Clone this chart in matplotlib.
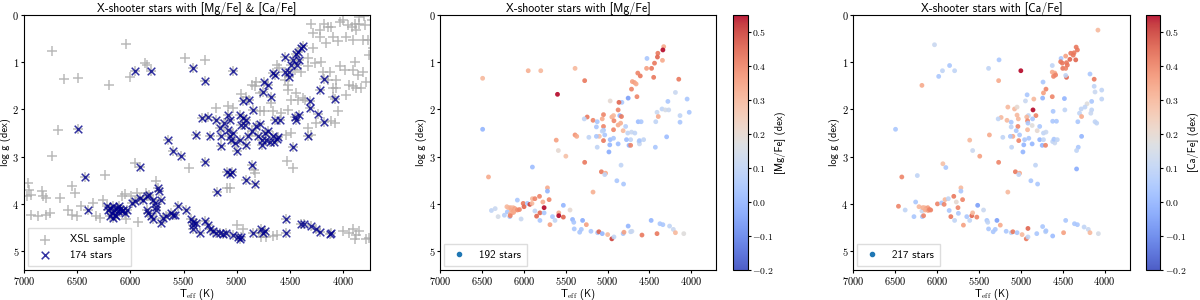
import numpy as np
import matplotlib
matplotlib.use("Agg")
import matplotlib.pyplot as plt
from matplotlib.lines import Line2D

plt.rcParams['font.family'] = 'cmss10'
plt.rcParams['mathtext.fontset'] = 'cm'
plt.rcParams['axes.formatter.use_mathtext'] = True
plt.rcParams['axes.unicode_minus'] = True

# ---------------- panel 1 : stars with both [Mg/Fe] and [Ca/Fe] ----------------
both_teff = [6495, 6430, 6395, 5955, 5810, 5910, 5410, 5295, 5035, 5380, 5520, 5600, 5645,
             5295, 5185, 5095, 5065, 5045, 4910, 4860, 4830, 4470, 4330, 4315, 4220, 4175,
             4080, 4175, 4235, 4315, 4410, 4440, 4455, 4635, 4650, 4625, 4785, 4845, 4940,
             4880, 4755, 4740, 4705, 4675, 4660, 4640, 4550, 4510, 4485, 4550, 4470, 4445,
             4425, 4410, 4395, 4380, 4435, 4505,
             5330, 5270, 5255, 5190, 5160, 5145, 5145, 5115, 5080, 5065, 5080, 5065, 5035,
             5050, 5000, 5015, 4970, 4940, 4955, 4920, 4910, 4895, 4910, 4970, 4860, 4815,
             4800, 4765, 4765, 4735, 4720, 4705, 4690, 4660, 4610, 4595,
             6223, 6208, 6192, 6176, 6161, 6155, 6145, 6130, 6114, 6098, 6192, 6167, 6136,
             6111, 6083, 6067, 6051, 6036, 5989, 5957, 5910, 5879, 5848, 5829, 5791, 5769,
             5760, 5754, 5848, 5832, 5810, 5791, 5738, 5729, 5707, 5707, 5691, 5660, 5613,
             5597, 5581, 5550, 5472, 5425, 5415, 5409, 5409, 5378, 5347, 5300, 5268, 5253,
             5221, 5190, 5159, 5127, 5096, 5033, 4987, 4971, 4955, 4846, 4767, 4752, 4736,
             4532, 4532, 4392, 4370, 4298, 4251, 4219, 4125, 4110]
both_logg = [2.42, 3.42, 4.13, 1.18, 1.18, 3.22, 1.13, 1.39, 1.18, 2.54, 2.99, 2.87, 2.65,
             3.11, 3.75, 3.33, 3.36, 3.33, 3.50, 3.17, 3.58, 2.80, 2.57, 1.83, 1.58, 1.35,
             1.77, 2.27, 2.09, 1.97, 2.11, 2.22, 2.15, 2.23, 2.68, 2.63, 2.31, 2.01, 1.83,
             1.80, 1.62, 1.41, 1.48, 1.73, 1.23, 1.27, 1.20, 1.32, 1.06, 0.89, 0.95, 0.82,
             0.79, 0.95, 0.70, 0.65, 1.06, 1.20,
             2.18, 2.15, 2.57, 2.22, 2.39, 2.57, 2.78, 2.29, 2.11, 2.22, 2.43, 2.57, 2.50,
             2.64, 2.89, 2.71, 2.11, 2.18, 2.32, 2.32, 2.22, 2.57, 2.75, 2.64, 2.46, 2.36,
             2.57, 2.64, 2.75, 2.50, 2.64, 2.46, 2.68, 2.57, 2.59, 2.23,
             4.05, 4.12, 4.08, 4.19, 4.05, 4.12, 4.23, 4.08, 4.15, 4.11, 4.25, 4.30, 4.26,
             4.05, 4.15, 4.12, 4.19, 4.12, 3.99, 3.93, 3.87, 3.91, 3.84, 3.82, 3.92, 3.99,
             4.06, 4.12, 4.12, 4.19, 4.26, 4.33, 3.66, 3.73, 3.91, 4.40, 4.30, 4.26, 4.19,
             4.23, 4.23, 4.05, 4.12, 4.33, 4.39, 4.44, 4.54, 4.40, 4.61, 4.37, 4.44, 4.54,
             4.58, 4.61, 4.61, 4.63, 4.61, 4.65, 4.70, 4.74, 4.70, 4.61, 4.54, 4.61, 4.58,
             4.33, 4.61, 4.42, 4.42, 4.47, 4.54, 4.60, 4.63, 4.61]

# rest of the XSL sample (only the grey crosses that are not under a blue one)
xsl_teff = [6740, 6625, 6490, 6200, 6040, 6000, 5865, 5840, 5490, 5295, 6680, 6740, 6240,
            5955, 5445, 5095, 4530, 4470, 5035, 5190, 5080,
            6960, 6950, 6930, 6975, 6835, 6820, 6790, 6660, 6930, 6865, 6790, 6760, 6550,
            6520, 6585, 6550, 6505, 6460, 6350, 6320, 6285, 6255, 6080, 6050, 6040, 5990,
            5935, 5925, 5850, 5755,
            4300, 4280, 4220, 4175, 4145, 4110, 4030, 4000, 3955, 3920, 3890, 3875, 3845,
            3795, 3765, 3810, 3905, 3970, 4050, 4095, 4160, 4220, 4280, 4330, 4330, 4265,
            4205, 4190, 4125, 4140, 4065, 4030, 3985, 3905, 3890, 3860, 3810, 3780, 3760,
            3940, 3905, 3875, 3830, 3970, 4065, 4095, 4095, 4050, 4110, 4080, 4250, 4330,
            4300, 4375, 4360, 4425, 4440, 4520, 4550, 4455, 4395, 4515, 4490, 4515, 4490,
            4540, 4580, 4660, 4675, 4740, 4785, 4785, 4830, 4860, 4910, 4955, 4815, 4625,
            4600, 3730, 3720, 3800, 3850,
            4940, 5000, 4790, 4770, 4720, 4660, 4625, 4000, 3940, 3905, 3875, 3845, 3890,
            3780, 3760, 4830, 4840, 5060]
xsl_logg = [0.77, 1.36, 1.34, 1.48, 0.61, 1.32, 1.02, 1.06, 0.92, 0.95, 2.43, 2.98, 3.39,
            3.13, 3.24, 3.66, 3.10, 3.24, 1.97, 1.97, 1.93,
            3.56, 3.70, 3.82, 3.84, 3.73, 3.84, 3.87, 3.87, 4.23, 4.26, 4.23, 4.20, 3.63,
            3.77, 4.12, 4.23, 4.26, 4.05, 3.98, 4.26, 4.30, 3.91, 3.84, 3.80, 4.33, 3.84,
            3.77, 4.39, 3.77, 3.52,
            0.18, 0.39, 0.32, 0.18, 0.25, 0.25, 0.14, 0.11, 0.21, 0.25, 0.18, 0.32, 0.18,
            0.21, 0.53, 0.53, 0.53, 0.46, 0.56, 0.46, 0.60, 0.46, 0.70, 0.92, 1.09, 1.02,
            0.99, 1.20, 1.20, 1.37, 1.37, 1.09, 1.16, 1.16, 0.99, 1.27, 1.20, 1.41, 0.85,
            1.48, 1.51, 1.55, 1.55, 1.69, 1.55, 1.55, 1.73, 2.04, 2.25, 2.28, 2.29, 2.39,
            2.54, 1.76, 1.80, 1.80, 1.66, 1.48, 1.37, 1.16, 1.20, 1.58, 1.80, 2.01, 2.50,
            2.55, 2.08, 2.04, 1.87, 2.04, 2.04, 1.65, 1.51, 1.48, 1.73, 1.67, 1.41, 1.06,
            1.13, 0.10, 0.70, 0.02, 0.05,
            4.54, 4.44, 4.61, 4.70, 4.70, 4.68, 4.65, 4.58, 4.61, 4.54, 4.65, 4.58, 4.75,
            4.74, 4.72, 3.35, 3.29, 3.66]

# ---------------- panel 2 : [Mg/Fe] ----------------
mg_teff = [6495, 6495, 6425, 5950, 5800, 5390, 5275, 5600, 5390, 5370, 5615, 5590, 5500,
           5275, 5900, 5175, 5075, 5025, 5035, 4890, 4840, 4810,
           4330, 4340, 4400, 4405, 4345, 4440, 4475, 4535, 4530, 4450, 4610, 4640, 4705,
           4680, 4660, 4715, 4650, 4755, 4970, 4830, 4865, 4875, 4855, 4835, 5050, 5065,
           5245, 5280, 5175, 5125, 5135, 5050, 5050, 4950, 4930, 4925, 4875, 4845, 4930,
           4815, 4785, 4760, 4715, 4675, 4635, 4600, 4625, 4620, 4620, 4570, 4725, 4775,
           4745, 4725, 4875, 4975, 4985, 4970, 4930, 5035, 5050, 5065, 5100, 5135, 5125,
           5225,
           4150, 4280, 4050, 4025, 4190, 4135, 4135, 4350, 4310, 4270, 4410, 4395, 4425,
           4295, 4430,
           6390, 6345, 6310, 6235, 6205, 6200, 6170, 6185, 6160, 6130, 6110, 6150, 6120,
           6100, 6080, 6145, 6165, 6125, 6165, 6080, 6055, 6035, 6010, 6000, 5960, 5930,
           5905, 5900, 5870, 5870, 5850, 5810, 5810, 5815, 5775, 5760, 5760, 5720, 5720,
           5700, 5690, 5660, 5630, 5585, 5585, 5530, 5530, 5450, 5420, 5405, 5400, 5315,
           5300, 5255, 5335, 5200, 5120, 5105, 5065, 5000, 4950, 4925, 4815, 4805, 4755,
           4725, 4710, 4590, 4480, 4410, 4375, 4340, 4260, 4215, 4190, 4090]
mg_logg = [1.34, 2.42, 3.43, 1.18, 1.18, 1.13, 1.39, 1.68, 2.54, 2.57, 2.65, 2.87, 2.99,
           3.12, 3.22, 3.75, 3.32, 3.35, 3.38, 3.51, 3.18, 3.58,
           0.67, 0.74, 0.81, 0.89, 0.96, 1.02, 1.13, 1.13, 0.92, 1.32, 1.29, 1.23, 1.41,
           1.43, 1.46, 1.57, 1.73, 1.76, 1.82, 1.85, 1.85, 2.01, 2.13, 2.15, 2.11, 2.20,
           2.16, 2.20, 2.23, 2.26, 2.37, 2.36, 2.44, 2.16, 2.13, 2.24, 2.33, 2.29, 2.43,
           2.45, 2.36, 2.50, 2.48, 2.50, 2.26, 2.26, 2.68, 2.73, 2.66, 2.64, 2.64, 2.64,
           2.76, 2.76, 2.73, 2.75, 2.90, 2.64, 2.61, 2.54, 2.66, 2.46, 2.57, 2.57, 2.80,
           2.59,
           1.36, 1.83, 1.78, 2.06, 1.64, 2.13, 2.27, 1.99, 2.01, 2.01, 2.06, 2.15, 2.26,
           2.58, 2.80,
           4.14, 4.10, 4.27, 4.24, 4.06, 4.17, 4.27, 4.08, 4.08, 4.08, 4.10, 4.13, 4.15,
           4.12, 4.13, 4.19, 4.21, 4.18, 4.25, 3.92, 4.12, 4.32, 3.99, 4.06, 3.99, 4.01,
           3.99, 3.89, 3.89, 4.15, 4.26, 4.19, 4.35, 3.84, 3.96, 4.08, 4.19, 3.66, 3.73,
           3.91, 4.44, 4.27, 4.35, 4.19, 4.25, 4.28, 4.03, 4.13, 4.33, 4.39, 4.53, 4.54,
           4.35, 4.44, 4.60, 4.58, 4.61, 4.59, 4.63, 4.65, 4.74, 4.70, 4.63, 4.60, 4.47,
           4.59, 4.58, 4.66, 4.35, 4.63, 4.42, 4.44, 4.47, 4.54, 4.61, 4.63]
mg_fe = [0.30, 0.00, 0.33, 0.32, 0.30, 0.30, 0.42, 0.55, 0.38, 0.33, 0.35, 0.20, 0.28,
         0.42, 0.02, 0.32, 0.42, 0.33, 0.10, 0.05, 0.10, 0.05,
         0.33, 0.55, 0.42, 0.45, 0.33, 0.42, 0.42, 0.35, 0.05, 0.42, 0.42, 0.40, 0.35,
         0.35, 0.33, 0.40, 0.40, -0.05, 0.20, 0.05, 0.45, 0.40, 0.00, 0.42, 0.40, 0.33,
         0.42, 0.10, 0.40, 0.05, 0.05, 0.40, 0.05, 0.32, 0.30, 0.40, 0.33, 0.32, 0.40,
         0.30, 0.08, 0.10, 0.12, 0.10, 0.02, 0.05, 0.10, 0.12, 0.05, 0.10, 0.10, 0.02,
         0.00, 0.40, 0.02, 0.00, -0.02, 0.02, 0.05, 0.05, 0.42, 0.10, 0.28, 0.05, 0.10,
         0.10,
         0.42, 0.05, 0.05, 0.05, 0.12, 0.10, 0.05, 0.10, 0.15, 0.12, 0.12, 0.33, 0.10,
         0.02, 0.05,
         0.10, 0.12, 0.15, 0.08, 0.30, 0.05, 0.05, 0.30, 0.32, 0.30, 0.35, 0.33, 0.35,
         0.32, 0.38, 0.35, 0.30, 0.33, 0.40, 0.05, 0.40, 0.12, 0.42, 0.45, 0.05, 0.50,
         0.30, 0.30, 0.40, 0.10, 0.45, 0.45, 0.05, 0.40, 0.33, 0.55, 0.05, 0.33, 0.00,
         0.40, 0.35, 0.05, 0.10, 0.33, 0.55, 0.45, 0.00, 0.20, 0.00, 0.05, 0.05, 0.05,
         -0.02, 0.35, 0.05, 0.05, 0.05, 0.45, 0.00, 0.30, 0.50, 0.10, 0.05, 0.35, 0.00,
         0.10, 0.12, 0.42, 0.00, 0.42, 0.05, 0.05, 0.10, 0.12, 0.30, 0.18]

# ---------------- panel 3 : [Ca/Fe] ----------------
ca_teff = [6495, 6030, 5980, 5935, 5850, 5790, 6180, 6420, 6235, 5930, 5895, 5385, 5260,
           5265, 5000, 5375, 5610, 5575, 5490, 5265, 5155, 5065, 5015, 5025, 4880, 4825,
           4800,
           4080, 4340, 4325, 4365, 4375, 4405, 4415, 4345, 4465, 4455, 4505, 4520, 4525,
           4500, 4465, 4445, 4455, 4465, 4595, 4625, 4585, 4610, 4625, 4735, 4700, 4730,
           4740, 4625, 4615, 4925, 4845, 4945, 4855, 4820, 4860, 4910, 5075, 5045, 5155,
           5045, 5030, 5235, 5270, 5165, 5115, 5115, 5035, 5055, 4930, 4920, 4915, 4920,
           4865, 4805, 4775, 4730, 4700, 4620, 4575, 4775, 4730, 4745, 4705, 4620, 4595,
           4605, 4565, 4865, 4965, 4975, 4955, 4905, 5015, 5025, 5095, 5125, 5110, 5215,
           4175, 4115, 4035, 4125, 4035, 4155, 4125, 4210, 4280, 4235, 4155, 4165, 4300,
           4275, 4320, 4115, 4095, 4275, 4315, 4335, 4335, 4480, 4475,
           6460, 6380, 6275, 6255, 6215, 6180, 6175, 6170, 6150, 6130, 6110, 6140, 6105,
           6160, 6090, 6075, 5995, 5945, 5915, 5905, 5865, 5855, 5835, 5800, 5790, 5770,
           5750, 5745, 5715, 5715, 5695, 5685, 5645, 5610, 5585, 5575, 5525, 5515, 5445,
           5405, 5395, 5385, 5285, 5305, 5330, 5245, 5175, 5115, 5095, 5045, 4985, 4935,
           4915, 4915, 4810, 4740, 4705, 4700, 4620, 4490, 4465, 4360, 4325, 4245, 4195,
           4175, 4075]
ca_logg = [2.42, 0.63, 1.30, 1.18, 1.07, 1.18, 1.49, 3.43, 3.40, 3.15, 3.23, 1.13, 0.95,
           1.39, 1.18, 2.54, 2.65, 2.87, 2.99, 3.12, 3.75, 3.32, 3.35, 3.38, 3.51, 3.18,
           3.58,
           0.32, 0.68, 0.74, 0.80, 0.85, 0.81, 0.94, 0.95, 0.87, 1.01, 1.02, 0.92, 0.99,
           1.13, 1.13, 1.06, 1.32, 1.28, 1.23, 1.21, 1.27, 1.30, 1.07, 1.42, 1.57, 1.65,
           1.76, 1.73, 2.04, 1.69, 1.78, 1.82, 2.01, 2.13, 2.20, 2.13, 1.99, 1.95, 1.95,
           2.12, 2.20, 2.17, 2.20, 2.23, 2.27, 2.37, 2.36, 2.45, 2.16, 2.24, 2.29, 2.43,
           2.34, 2.45, 2.36, 2.50, 2.48, 2.25, 2.25, 2.64, 2.64, 2.76, 2.76, 2.68, 2.71,
           2.63, 2.64, 2.73, 2.75, 2.90, 2.64, 2.61, 2.54, 2.66, 2.57, 2.57, 2.80, 2.59,
           1.25, 1.63, 1.59, 1.51, 1.78, 1.83, 1.36, 1.88, 1.99, 1.95, 2.01, 2.08, 2.08,
           2.15, 2.26, 2.26, 2.29, 2.57, 2.80, 2.87, 3.26, 1.77, 2.01,
           4.05, 4.13, 4.27, 3.96, 4.06, 4.15, 4.27, 4.08, 4.08, 4.10, 4.08, 4.13, 4.14,
           4.25, 4.12, 4.13, 4.00, 3.98, 4.01, 3.91, 3.89, 4.14, 4.27, 3.84, 4.35, 3.96,
           4.08, 4.20, 3.66, 3.73, 3.91, 4.45, 4.27, 4.35, 4.25, 4.19, 4.28, 4.03, 4.13,
           4.35, 4.39, 4.53, 4.35, 4.54, 4.59, 4.45, 4.58, 4.61, 4.59, 4.61, 4.65, 4.74,
           4.70, 4.52, 4.63, 4.48, 4.59, 4.57, 4.68, 4.61, 4.35, 4.42, 4.44, 4.49, 4.54,
           4.61, 4.63]
ca_fe = [0.05, 0.12, 0.05, 0.10, 0.05, 0.10, 0.33, 0.40, 0.10, 0.28, 0.05, 0.10, 0.05,
         0.33, 0.55, 0.33, 0.30, 0.12, 0.35, 0.40, 0.30, 0.42, 0.33, 0.10, 0.05, 0.10,
         0.05,
         0.30, 0.42, 0.42, 0.42, 0.42, 0.42, 0.45, 0.45, 0.35, 0.42, 0.42, 0.05, 0.42,
         0.42, 0.40, 0.42, 0.45, 0.10, 0.33, 0.33, 0.40, 0.40, 0.10, 0.05, 0.40, 0.35,
         0.00, 0.40, 0.05, 0.05, 0.30, 0.12, 0.55, 0.40, 0.05, 0.10, 0.30, 0.20, 0.30,
         0.30, 0.30, 0.30, 0.10, 0.30, 0.05, 0.10, 0.40, 0.05, 0.30, 0.40, 0.05, 0.30,
         0.18, 0.20, 0.05, 0.10, 0.12, 0.05, 0.05, 0.00, 0.10, 0.00, 0.40, 0.10, 0.12,
         0.05, 0.10, 0.00, 0.00, 0.00, 0.05, 0.05, 0.05, 0.40, 0.33, 0.05, 0.10, 0.10,
         0.05, 0.12, 0.10, 0.10, 0.10, 0.05, 0.42, 0.18, 0.10, 0.10, 0.10, 0.12, 0.10,
         0.33, 0.05, 0.10, 0.10, 0.00, 0.05, 0.10, -0.02, 0.00, 0.10,
         0.40, 0.10, 0.05, 0.05, 0.30, 0.12, 0.05, 0.32, 0.30, 0.33, 0.35, 0.32, 0.35,
         0.40, 0.40, 0.40, 0.40, 0.05, 0.40, 0.30, 0.10, 0.05, 0.42, 0.42, 0.10, 0.20,
         0.40, 0.05, 0.30, 0.05, 0.40, 0.35, 0.05, 0.10, 0.45, 0.30, 0.40, -0.05, 0.12,
         0.05, 0.10, 0.05, -0.05, 0.05, 0.05, 0.33, 0.05, 0.10, 0.42, 0.05, 0.30, 0.42,
         0.10, 0.45, 0.05, 0.05, 0.10, 0.05, 0.02, 0.35, 0.05, 0.05, 0.05, 0.10, 0.12,
         0.30, 0.15]

cmin, cmax = -0.2, 0.55

fig = plt.figure(figsize=(12, 3), dpi=100)
ax1 = fig.add_axes([0.020, 0.10, 0.288, 0.85])
ax2 = fig.add_axes([0.367, 0.10, 0.230, 0.85])
cax2 = fig.add_axes([0.611, 0.10, 0.012, 0.85])
ax3 = fig.add_axes([0.711, 0.10, 0.2305, 0.85])
cax3 = fig.add_axes([0.955, 0.10, 0.012, 0.85])

leg_kw = dict(loc='lower left', fontsize=8, fancybox=False, framealpha=1,
              edgecolor='#dddddd', borderpad=0.55, borderaxespad=0.35)

# panel 1
ax1.scatter(xsl_teff + both_teff, xsl_logg + both_logg, marker='+', s=45,
            color='darkgray', alpha=0.8, linewidths=1.1, label='XSL sample', zorder=1)
ax1.scatter(both_teff, both_logg, marker='x', s=30, color='darkblue', alpha=0.8,
            linewidths=1.1, label='%d stars' % 174, zorder=2)
ax1.set_title('X-shooter stars with [Mg/Fe] & [Ca/Fe]', fontsize=8.5, pad=2)
ax1.legend(handletextpad=1.2, **leg_kw)
ax1.set_xlim(7000, 3750)

# panels 2 and 3
for ax, cax, t, g, v, n, lab, ttl in [
        (ax2, cax2, mg_teff, mg_logg, mg_fe, 192, '[Mg/Fe] (dex)', 'X-shooter stars with [Mg/Fe]'),
        (ax3, cax3, ca_teff, ca_logg, ca_fe, 217, '[Ca/Fe] (dex)', 'X-shooter stars with [Ca/Fe]')]:
    sc = ax.scatter(t, g, c=v, cmap='coolwarm', vmin=cmin, vmax=cmax, s=12,
                    edgecolors='none', alpha=0.9)
    ax.set_title(ttl, fontsize=8.5, pad=2)
    ax.set_xlim(7000, 3700)
    h = Line2D([], [], marker='o', ls='', color='C0', markersize=3)
    ax.legend([h], ['%d stars' % n], handlelength=1.5, handletextpad=1.1, **leg_kw)
    cb = fig.colorbar(sc, cax=cax)
    cb.set_ticks(np.arange(-0.2, 0.51, 0.1))
    cb.set_label(lab, fontsize=7.5, labelpad=1)
    cb.ax.tick_params(labelsize=7, labelfontfamily='cmr10', length=2, pad=1.5)

for ax in [ax1, ax2, ax3]:
    ax.set_ylim(5.4, 0)
    ax.set_xticks([7000, 6500, 6000, 5500, 5000, 4500, 4000])
    ax.set_yticks([0, 1, 2, 3, 4, 5])
    ax.set_xlabel(r'T$_{\rm eff}$ (K)', fontsize=7.5, labelpad=0)
    ax.set_ylabel('log g (dex)', fontsize=7.5, labelpad=1)
    ax.tick_params(labelsize=7.5, labelfontfamily='cmr10', length=2, pad=1.5)

fig.savefig('out.png', dpi=100)
